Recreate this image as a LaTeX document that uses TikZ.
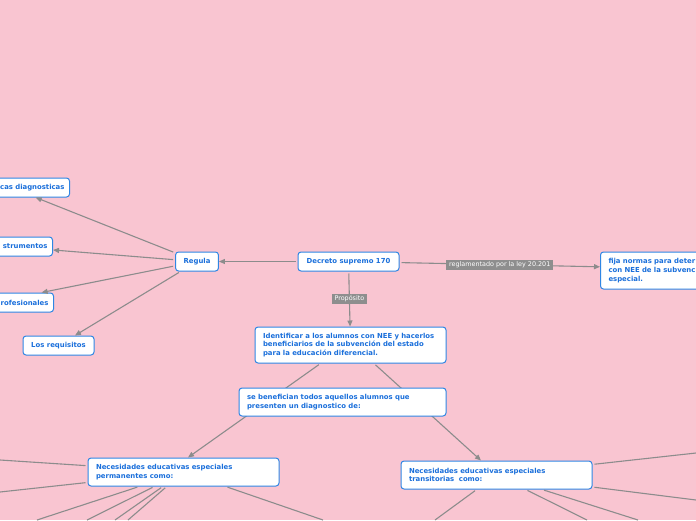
\documentclass[tikz,border=0pt]{standalone}
\usepackage{fontspec}
\setmainfont{DejaVu Sans}
\usetikzlibrary{
  arrows.meta,
  calc,
}
\definecolor{pageFill}{HTML}{F9C5D1}
\definecolor{topicStroke}{HTML}{2F86E4}
\definecolor{topicText}{HTML}{1A6FDB}
\definecolor{linkGray}{HTML}{8C8C8C}
\definecolor{labelFill}{HTML}{8E8E8E}
\tikzset{
  topic/.style={
    rectangle, rounded corners=3pt,
    draw=topicStroke, line width=1pt,
    fill=white, text=topicText,
    font=\fontsize{6.9}{8.6}\selectfont\bfseries,
    inner xsep=8pt, inner ysep=0pt,
  },
  single/.style={
    topic, align=center,
    minimum height=19pt,
  },
  stub/.style={
    topic, align=right, anchor=east,
    inner xsep=5pt,
    minimum height=19pt,
  },
  multi/.style={
    topic, align=left,
  },
  link/.style={
    -{Triangle[length=6pt,width=5pt]},
    draw=linkGray, line width=1.1pt, shorten <=2pt,
  },
  spoke/.style={
    draw=linkGray, line width=1.1pt, shorten <=2pt,
  },
  linklabel/.style={
    fill=labelFill, text=white,
    font=\fontsize{6.4}{7.5}\selectfont,
    inner xsep=3pt, inner ysep=2pt,
  },
}

\begin{document}
\begin{tikzpicture}[x=1pt, y=-1pt]

% ============================================
% Frame (pixels): x in [0,696], y in [0,520], y downwards
% ============================================
\useasboundingbox (0,0) rectangle (696,520);
\clip (0,0) rectangle (696,520);
\fill[pageFill] (0,0) rectangle (696,520);

% ----- Row y=262: central topic and its neighbours -----
\node[single, minimum width=101pt] (decreto) at (348.5,261.5) {Decreto supremo 170};
\node[single, minimum width=42pt]  (regula)  at (197,261.5)   {Regula};
\node[multi, anchor=west, text width=334pt, minimum height=37pt] (fija) at (600,270.5)
  {fija normas para deter\\con NEE de la subvenc\\especial.};

% ----- Left column: what Regula covers (cut by the frame) -----
\node[stub, text width=108pt] (diagnosticas)  at (70,187.5) {cas diagnosticas};
\node[stub, text width=76pt]  (instrumentos)  at (53,246.5) {strumentos};
\node[stub, text width=114pt] (profesionales) at (54,302.5) {rofesionales};
\node[single, minimum width=71pt] (requisitos) at (58.5,345.5) {Los requisitos};

% ----- Purpose and the two kinds of NEE -----
\node[multi, text width=175pt, minimum height=36pt] (identificar) at (350.5,345)
  {Identificar a los alumnos con NEE y hacerlos\\beneficiarios de la subvención del estado\\para la educación diferencial.};
\node[multi, text width=175pt, minimum height=28pt] (permanentes) at (183.5,472)
  {Necesidades educativas especiales\\permanentes como:};
\node[multi, text width=175pt, minimum height=28pt] (transitorias) at (496.5,475)
  {Necesidades educativas especiales\\transitorias \ como:};

% free ends of the branches that leave the frame
\coordinate (p1) at (0,460);
\coordinate (p2) at (0,492);
\coordinate (p3) at (37,520);
\coordinate (p4) at (87,520);
\coordinate (p5) at (115,520);
\coordinate (p6) at (128,520);
\coordinate (p7) at (323,520);
\coordinate (t1) at (696,453);
\coordinate (t2) at (696,500);
\coordinate (t3) at (435,520);
\coordinate (t4) at (587,520);
\coordinate (t5) at (638,520);

% ============================================
% Connectors
% ============================================
\draw[link] (decreto) -- (regula);
\draw[link] (decreto) -- node[linklabel]{reglamentado por la ley 20.201} (fija);
\draw[link] (decreto) -- node[linklabel]{Propósito} (identificar);

\draw[link] (regula) -- (diagnosticas);
\draw[link] (regula) -- (instrumentos);
\draw[link] (regula) -- (profesionales);
\draw[link] (regula) -- (requisitos);

% both run behind the "se benefician" box
\draw[link] ($(identificar.south) + (-30,0)$) -- ($(permanentes.north) + (4.5,0)$);
\draw[link] ($(identificar.south) + (23.5,0)$) -- ($(transitorias.north) + (-15.5,0)$);

\foreach \p in {p1,p2,p3,p4,p5,p6,p7}
  \draw[spoke] (permanentes) -- (\p);
\foreach \t in {t1,t2,t3,t4,t5}
  \draw[spoke] (transitorias) -- (\t);

% drawn last so it sits on top of the two lines
\node[multi, text width=191pt, minimum height=28pt] (benefician) at (342.5,402)
  {se benefician todos aquellos alumnos que\\presenten un diagnostico de:};

\end{tikzpicture}
\end{document}
